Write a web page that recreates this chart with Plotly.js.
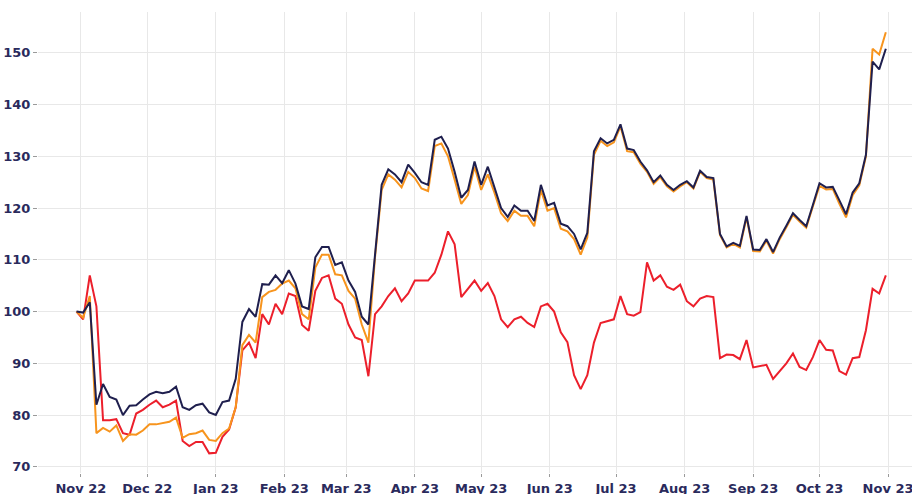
<!DOCTYPE html>
<html>
<head>
<meta charset="utf-8">
<script src="https://cdn.plot.ly/plotly-3.0.1.min.js"></script>
<style>html,body{margin:0;padding:0;background:#fff;}#chart{width:912px;height:494px;}</style>
</head>
<body>
<div id="chart"></div>
<script>
// Series sampled every 3 calendar days starting 2022-10-30
const startDate = '2022-10-30';
const stepDays = 3;

const navySeries = [
  100, 99.8, 101.8, 82, 86, 83.5, 83, 80, 81.8, 81.9,
  83, 84, 84.5, 84.2, 84.5, 85.5, 81.5, 81, 81.9, 82.2,
  80.5, 80, 82.5, 82.8, 87, 98, 100.5, 99, 105.3, 105.2,
  107, 105.5, 108, 105.4, 101, 100.5, 110.5, 112.5, 112.5, 109,
  109.5, 106, 103.8, 99, 97.5, 111.5, 124.5, 127.5, 126.5, 125,
  128.4, 126.8, 125, 124.5, 133.2, 133.8, 131.5, 127, 122, 123.5,
  129, 124.5, 128, 124, 120, 118.3, 120.5, 119.5, 119.5, 117.5,
  124.5, 120.5, 121, 117, 116.5, 115, 112, 115.2, 131, 133.5,
  132.5, 133.2, 136.2, 131.5, 131.2, 129, 127.3, 125, 126.3, 124.5,
  123.5, 124.5, 125.2, 124, 127.2, 126, 125.8, 115, 112.6, 113.3,
  112.7, 118.5, 112, 111.9, 114, 111.5, 114.3, 116.6, 119, 117.7,
  116.5, 120.6, 124.8, 124, 124.1, 121.5, 118.8, 123, 124.8, 130.3,
  148.3, 146.8, 150.8
];

const orangeSeries = [
  100, 98.8, 103, 76.5, 77.5, 76.8, 78, 75, 76.3, 76.2,
  77, 78.2, 78.2, 78.5, 78.7, 79.5, 75.6, 76.3, 76.5, 77,
  75.2, 75, 76.5, 77.4, 81.5, 93.5, 95.5, 94, 102.8, 103.8,
  104.2, 105.4, 106, 104.5, 99.5, 98.5, 108.5, 111, 111, 107.2,
  107, 104, 102.5, 97.5, 94, 110.5, 123.5, 126.5, 125.5, 124,
  127, 125.8, 123.8, 123.3, 132, 132.5, 130, 125.5, 120.8, 122.5,
  128, 123.5, 126.5, 123, 119, 117.5, 119.5, 118.5, 118.5, 116.5,
  123.5, 119.5, 120, 116, 115.5, 114, 111, 114.3, 130.3, 133,
  132, 132.7, 135.8, 131, 130.8, 128.6, 127, 124.7, 126, 124.2,
  123.2, 124.2, 125, 123.8, 127, 125.8, 125.5, 114.8, 112.4, 113.1,
  112.4, 118.2, 111.7, 111.6, 113.7, 111.2, 114, 116.3, 118.7, 117.4,
  116.2, 120.3, 124.3, 123.6, 123.7, 120.8, 118.2, 122.5, 124.4, 130,
  150.8, 149.7, 154
];

const redSeries = [
  100, 98.5, 107, 101, 79, 79, 79.2, 76.5, 76.2, 80.3,
  81, 82, 82.8, 81.5, 82, 82.8, 75, 74, 74.8, 74.8,
  72.6, 72.7, 75.8, 77.2, 81.5, 92.5, 94, 91, 99.5, 97.5,
  101.5, 99.5, 103.5, 103, 97.4, 96.3, 104, 106.5, 107, 102.5,
  101.5, 97.5, 95, 94.5, 87.5, 99.5, 101, 103, 104.5, 102,
  103.5, 106, 106, 106, 107.5, 111, 115.5, 113, 102.8, 104.5,
  106, 104, 105.5, 103, 98.5, 97, 98.5, 99, 97.8, 97,
  101, 101.5, 100, 96, 94.1, 87.7, 85, 87.7, 94, 97.8,
  98.2, 98.5, 103, 99.5, 99.2, 99.9, 109.5, 106, 107, 104.8,
  104.2, 105.2, 102, 101, 102.5, 103, 102.8, 91, 91.7, 91.6,
  90.8, 94.5, 89.2, 89.4, 89.7, 87, 88.5, 90, 91.9, 89.3,
  88.7, 91.2, 94.5, 92.6, 92.5, 88.5, 87.8, 91, 91.2, 96.4,
  104.4, 103.5, 107
];

const t0 = Date.parse(startDate + 'T00:00:00Z');
const dates = navySeries.map((_, i) => new Date(t0 + i * stepDays * 86400000).toISOString().slice(0, 10));

const tickFont = {family: 'DejaVu Sans, sans-serif', size: 13, color: '#2a2a5c', weight: 'bold'};

const traces = [
  {x: dates, y: redSeries, type: 'scatter', mode: 'lines', line: {color: '#ec1f2b', width: 2}, hoverinfo: 'skip'},
  {x: dates, y: orangeSeries, type: 'scatter', mode: 'lines', line: {color: '#f7941d', width: 2}, hoverinfo: 'skip'},
  {x: dates, y: navySeries, type: 'scatter', mode: 'lines', line: {color: '#1f1f4e', width: 2}, hoverinfo: 'skip'}
];

const layout = {
  width: 912, height: 494,
  margin: {l: 38, r: 0, t: 12, b: 21},
  paper_bgcolor: '#ffffff', plot_bgcolor: '#ffffff',
  showlegend: false,
  xaxis: {
    type: 'date',
    range: ['2022-10-12 14:00', '2023-11-11 20:00'],
    tick0: '2022-11-01', dtick: 'M1', tickformat: '%b %y',
    showgrid: true, gridcolor: '#e8e8e8', gridwidth: 1,
    ticks: 'outside', ticklen: 3, tickcolor: '#9a9a9a',
    ticklabeloverflow: 'allow',
    tickfont: tickFont, zeroline: false, showline: false, automargin: false
  },
  yaxis: {
    range: [68.8, 157.9],
    tick0: 0, dtick: 10,
    showgrid: true, gridcolor: '#e8e8e8', gridwidth: 1,
    ticks: 'outside', ticklen: 4, tickcolor: '#9a9a9a',
    tickfont: tickFont, zeroline: false, showline: false, automargin: false
  }
};

Plotly.newPlot('chart', traces, layout, {displayModeBar: false, staticPlot: true});
</script>
</body>
</html>
